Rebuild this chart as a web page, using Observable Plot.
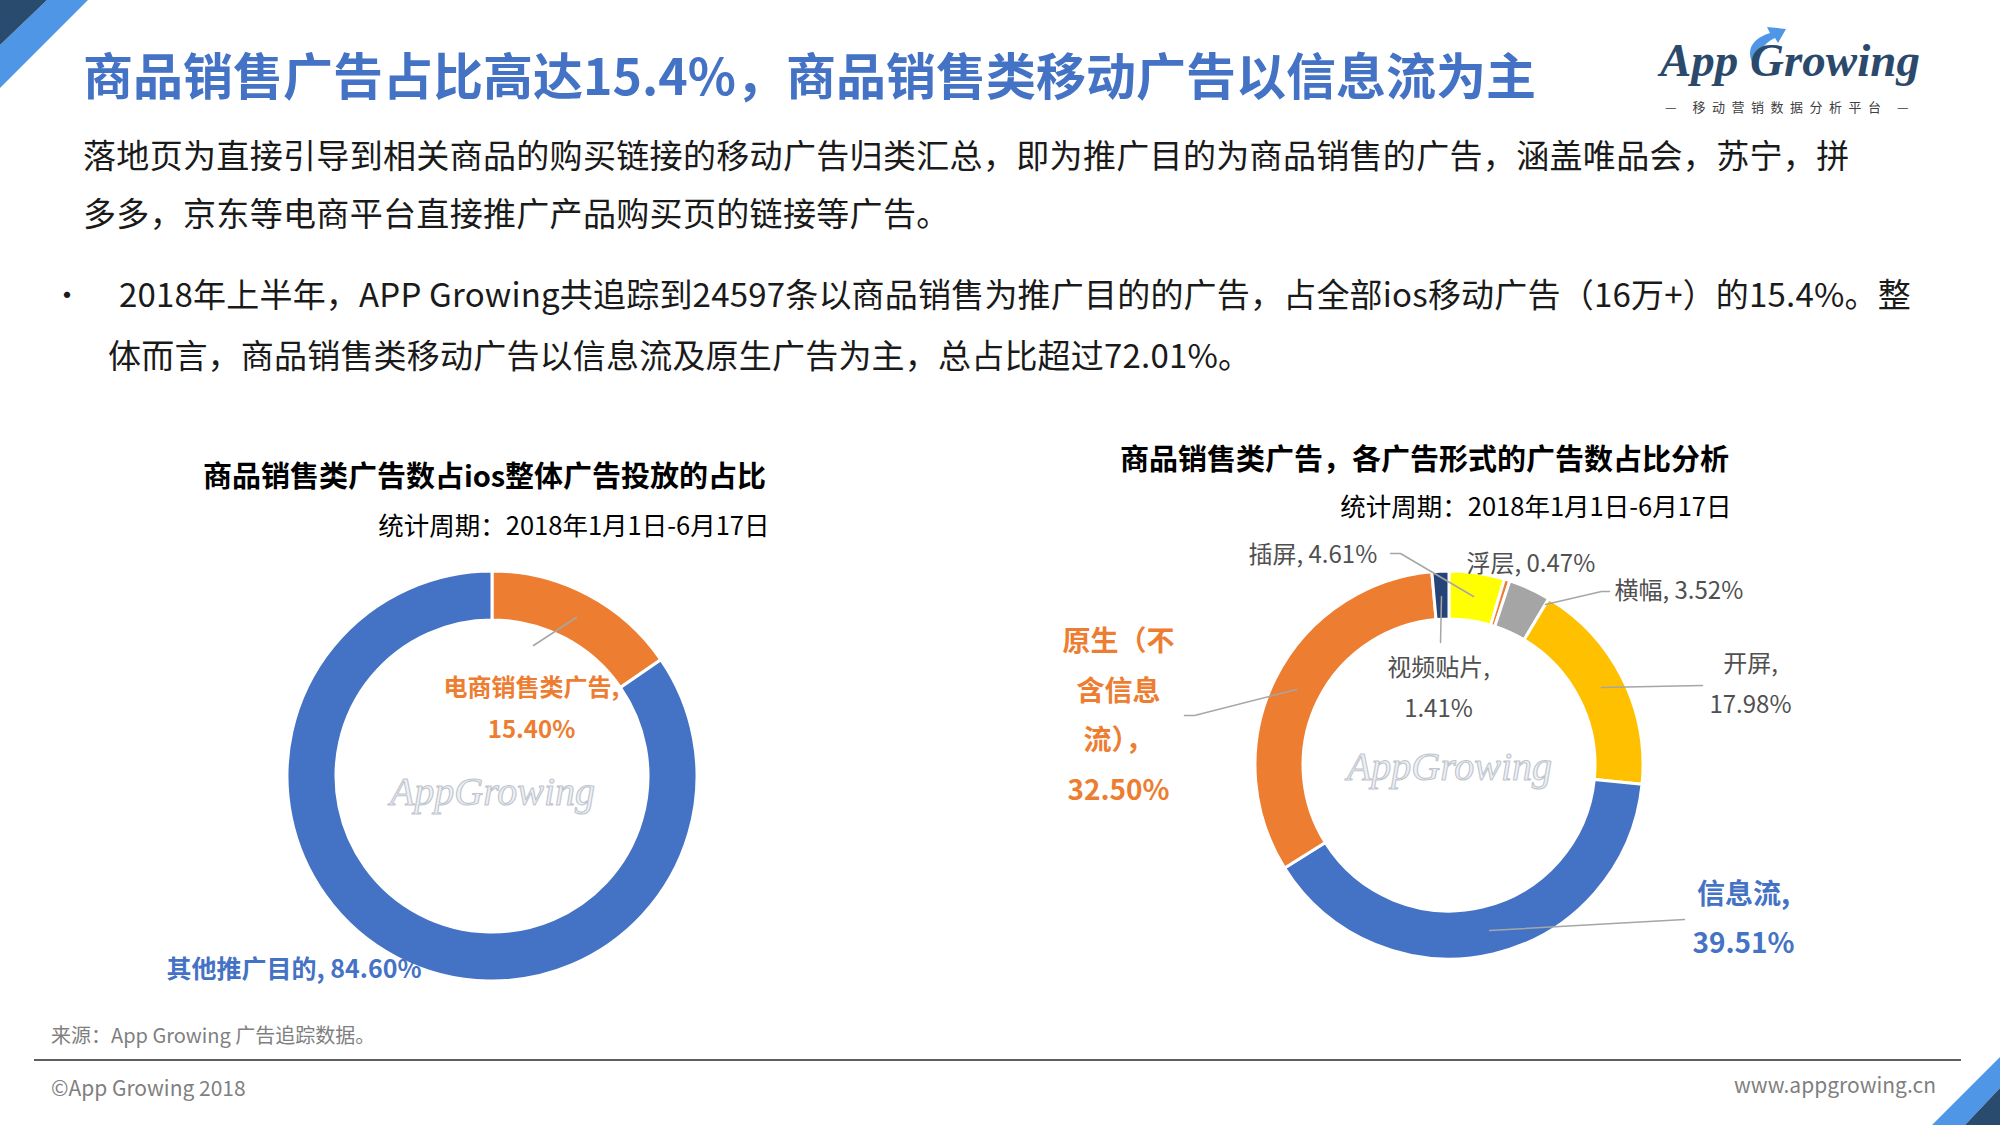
<!DOCTYPE html>
<html><head><meta charset="utf-8">
<script src="https://cdn.jsdelivr.net/npm/d3@7"></script>
<script src="https://cdn.jsdelivr.net/npm/@observablehq/plot@0.6"></script>
<style>
body{margin:0;background:#fff;}
#page{position:relative;width:2000px;height:1125px;overflow:hidden;background:#fff;font-family:"Noto Sans CJK SC","Noto Sans",sans-serif;}
.abs{position:absolute;white-space:nowrap;}
#chart{position:absolute;left:0;top:410px;}
</style></head><body>
<div id="page">
  <svg class="abs" style="left:0;top:0" width="2000" height="1125">
    <polygon points="47,0 88,0 0,88 0,45" fill="#4F97E6"/>
    <polygon points="0,0 47,0 0,45" fill="#294B6E"/>
    <polygon points="1932,1125 2000,1057 2000,1088 1965,1125" fill="#4F97E6"/>
    <polygon points="1965,1125 2000,1088 2000,1125" fill="#294B6E"/>
    <line x1="34" y1="1060" x2="1961" y2="1060" stroke="#5f5f5f" stroke-width="2"/>
    <!-- logo -->
    <path d="M1752,62 C1746,48 1754,38 1770,33 L1767,27 L1786,29 L1778,43 L1775,38 C1764,43 1758,52 1758,62 Z" fill="#4F97E6"/>
    <text x="1660" y="76" font-family="Liberation Serif" font-style="italic" font-weight="bold" font-size="47" fill="#2B4A6B">App Growing</text>
    <text x="1790" y="112" text-anchor="middle" font-family="Noto Sans CJK SC" font-size="13" fill="#404040" letter-spacing="6.5">—  移动营销数据分析平台  —</text>
  </svg>

  <div class="abs" style="left:83px;top:48px;font-size:50px;line-height:50px;font-weight:bold;color:#4472C4;">商品销售广告占比高达15.4%，商品销售类移动广告以信息流为主</div>

  <div class="abs" style="left:83px;top:138px;font-size:33px;line-height:33px;color:#1a1a1a;letter-spacing:0.33px;">落地页为直接引导到相关商品的购买链接的移动广告归类汇总，即为推广目的为商品销售的广告，涵盖唯品会，苏宁，拼</div>
  <div class="abs" style="left:83px;top:196px;font-size:33px;line-height:33px;color:#1a1a1a;letter-spacing:0.33px;">多多，京东等电商平台直接推广产品购买页的链接等广告。</div>

  <div class="abs" style="left:52px;top:277px;font-size:30px;line-height:33px;color:#1a1a1a;">•</div>
  <div class="abs" style="left:119px;top:277px;font-size:33px;line-height:33px;color:#1a1a1a;letter-spacing:0.2px;">2018年上半年，APP Growing共追踪到24597条以商品销售为推广目的的广告，占全部ios移动广告（16万+）的15.4%。整</div>
  <div class="abs" style="left:108px;top:338px;font-size:33px;line-height:33px;color:#1a1a1a;letter-spacing:0.2px;">体而言，商品销售类移动广告以信息流及原生广告为主，总占比超过72.01%。</div>

  <div id="chart"></div>

  <div class="abs" style="left:51px;top:1024px;font-size:20px;line-height:22px;color:#7f7f7f;">来源：App Growing 广告追踪数据。</div>
  <div class="abs" style="left:51px;top:1075px;font-size:21px;line-height:24px;color:#7f7f7f;">©App Growing 2018</div>
  <div class="abs" style="right:64px;top:1072px;font-size:21px;line-height:24px;color:#7f7f7f;">www.appgrowing.cn</div>
</div>
<script>
// ---------- data ----------
const shareCategories = ["电商销售类广告", "其他推广目的"];
const shareValues = [15.40, 84.60];
const formatCategories = ["插屏", "浮层", "横幅", "开屏", "信息流", "原生（不含信息流）", "视频贴片"];
const formatValues = [4.61, 0.47, 3.52, 17.98, 39.51, 32.50, 1.41];
const shareColors = ["#ED7D31", "#4472C4"];
const formatColors = ["#FFFF00", "#ED7D31", "#A5A5A5", "#FFC000", "#4472C4", "#ED7D31", "#264478"];
const leftTitle = "商品销售类广告数占ios整体广告投放的占比";
const rightTitle = "商品销售类广告，各广告形式的广告数占比分析";
const periodText = "统计周期：2018年1月1日-6月17日";

// ---------- layout ----------
const leftDonut = {cx: 492, cy: 776, r0: 156, r1: 205, sw: 3};
const rightDonut = {cx: 1449, cy: 765, r0: 146, r1: 194, sw: 3};
const labelLayout = {
  "电商销售类广告": {x: 531, y: 703, anchor: "middle", fill: "#ED7D31", size: 24, weight: "bold", lh: 1.75, fmt: (n, v) => `${n},\n${v}%`},
  "其他推广目的": {x: 166, y: 969, anchor: "start", fill: "#4472C4", size: 25, weight: "bold", lh: 1, fmt: (n, v) => `${n}, ${v}%`},
  "插屏": {x: 1248, y: 555, anchor: "start", fill: "#505050", size: 24, weight: "normal", lh: 1, fmt: (n, v) => `${n}, ${v}%`},
  "浮层": {x: 1466, y: 564, anchor: "start", fill: "#505050", size: 24, weight: "normal", lh: 1, fmt: (n, v) => `${n}, ${v}%`},
  "横幅": {x: 1614, y: 591, anchor: "start", fill: "#505050", size: 24, weight: "normal", lh: 1, fmt: (n, v) => `${n}, ${v}%`},
  "开屏": {x: 1750, y: 679, anchor: "middle", fill: "#505050", size: 24, weight: "normal", lh: 1.7, fmt: (n, v) => `${n},\n${v}%`},
  "信息流": {x: 1743, y: 912, anchor: "middle", fill: "#4472C4", size: 28, weight: "bold", lh: 1.78, fmt: (n, v) => `${n},\n${v}%`},
  "原生（不含信息流）": {x: 1118, y: 709, anchor: "middle", fill: "#ED7D31", size: 28, weight: "bold", lh: 1.78, fmt: (n, v) => `${n.slice(0, 4)}\n${n.slice(4, 7)}\n${n.slice(7)}，\n${v}%`},
  "视频贴片": {x: 1438, y: 683, anchor: "middle", fill: "#505050", size: 24, weight: "normal", lh: 1.7, fmt: (n, v) => `${n},\n${v}%`}
};
const leaderLayout = {
  "电商销售类广告": [[533, 645], [576, 617]],
  "插屏": [[1390, 553], [1400, 553], [1473, 596]],
  "横幅": [[1609, 591], [1601, 591], [1545, 604]],
  "开屏": [[1702, 685], [1601, 687]],
  "视频贴片": [[1441, 596], [1440, 642]],
  "原生（不含信息流）": [[1184, 715], [1194, 715], [1296, 689]],
  "信息流": [[1684, 919], [1489, 930]]
};
const titleLayout = [
  {text: leftTitle, x: 484, y: 477, anchor: "middle", size: 29, weight: "bold"},
  {text: periodText, x: 769, y: 526, anchor: "end", size: 25.5, weight: "normal"},
  {text: rightTitle, x: 1424, y: 460, anchor: "middle", size: 29, weight: "bold"},
  {text: periodText, x: 1731, y: 507, anchor: "end", size: 25.5, weight: "normal"}
];

// ---------- build ----------
const allCats = [...shareCategories, ...formatCategories];
const allColors = [...shareColors, ...formatColors];
const colorScale = Plot.scale({color: {type: "ordinal", domain: allCats, range: allColors}});

function fmtVal(v) { return v.toFixed(2); }
const labels = [];
shareCategories.forEach((n, i) => { const L = labelLayout[n]; labels.push({...L, text: L.fmt(n, fmtVal(shareValues[i]))}); });
formatCategories.forEach((n, i) => { const L = labelLayout[n]; labels.push({...L, text: L.fmt(n, fmtVal(formatValues[i]))}); });

const leaders = [];
Object.entries(leaderLayout).forEach(([id, pts]) => pts.forEach(([x, y]) => leaders.push({id, x, y})));

function donutMark(names, values, D) {
  return (index, scales) => {
    const sx = scales && scales.x ? scales.x : (v => v);
    const sy = scales && scales.y ? scales.y : (v => v - 410);
    const color = scales && scales.color ? scales.color : (c => colorScale.apply(c));
    const arcs = d3.pie().sort(null).value((d, i) => values[i])(names);
    const arc = d3.arc().innerRadius(D.r0).outerRadius(D.r1);
    const g = d3.create("svg:g").attr("transform", `translate(${sx(D.cx)},${sy(D.cy)})`);
    g.selectAll("path").data(arcs).join("path")
      .attr("d", arc)
      .attr("fill", d => color(d.data))
      .attr("stroke", "#fff")
      .attr("stroke-width", D.sw)
      .attr("stroke-linejoin", "miter");
    return g.node();
  };
}

const textMarks = labels.map(L => Plot.text([L], {
  x: "x", y: "y", text: "text", textAnchor: L.anchor, lineAnchor: "middle", lineHeight: L.lh,
  fill: L.fill, fontSize: L.size, fontWeight: L.weight, fontFamily: "Noto Sans CJK SC"
}));
const titleMarks = titleLayout.map(T => Plot.text([T], {
  x: "x", y: "y", text: "text", textAnchor: T.anchor, lineAnchor: "middle",
  fill: "#000", fontSize: T.size, fontWeight: T.weight, fontFamily: "Noto Sans CJK SC"
}));
const watermarks = [{x: leftDonut.cx, y: 792, t: "AppGrowing"}, {x: rightDonut.cx, y: 767, t: "AppGrowing"}];

const chart = Plot.plot({
  width: 2000, height: 620,
  margin: 0,
  x: {domain: [0, 2000], range: [0, 2000], axis: null},
  y: {domain: [410, 1030], range: [0, 620], axis: null},
  color: {type: "ordinal", domain: allCats, range: allColors},
  style: {background: "transparent", overflow: "visible"},
  marks: [
    donutMark(shareCategories, shareValues, leftDonut),
    donutMark(formatCategories, formatValues, rightDonut),
    Plot.text(watermarks, {x: "x", y: "y", text: "t", fontSize: 40, fontStyle: "italic",
      fontFamily: "Liberation Serif", fill: "#eef1f5", stroke: "#bfc5ce", strokeWidth: 1.1, paintOrder: "normal"}),
    Plot.line(leaders, {x: "x", y: "y", z: "id", stroke: "#a6a6a6", strokeWidth: 1.5, curve: "linear"}),
    ...titleMarks,
    ...textMarks
  ]
});
document.getElementById("chart").appendChild(chart);
</script>
</body></html>
